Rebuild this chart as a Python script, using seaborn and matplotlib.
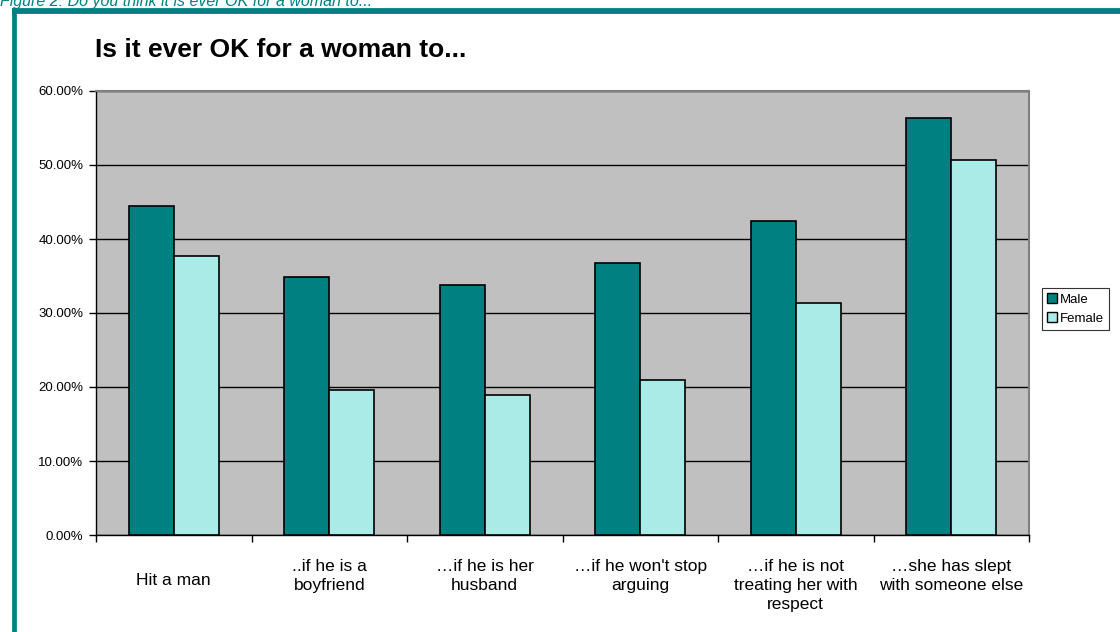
import pandas as pd
import matplotlib
matplotlib.use("Agg")
import matplotlib.pyplot as plt
import matplotlib.transforms
from matplotlib.lines import Line2D
from matplotlib.patches import Patch
from matplotlib.ticker import FuncFormatter, MultipleLocator
import seaborn as sns

# values
categories = ["Hit a man", "..if he is a\nboyfriend", "\u2026if he is her\nhusband",
              "\u2026if he won't stop\narguing", "\u2026if he is not\ntreating her with\nrespect",
              "\u2026she has slept\nwith someone else"]
male = [0.444, 0.349, 0.338, 0.368, 0.424, 0.564]
female = [0.377, 0.196, 0.189, 0.209, 0.313, 0.507]
series = ["Male", "Female"]
colors = ["#008080", "#AAEBE8"]

df = pd.DataFrame({
    "Question": categories * 2,
    "Share": male + female,
    "Gender": [series[0]] * len(categories) + [series[1]] * len(categories),
})

sns.set_style("white")
plt.rcParams["font.family"] = ["Liberation Sans", "DejaVu Sans"]
plt.rcParams["text.color"] = "black"
plt.rcParams["xtick.color"] = "black"
plt.rcParams["ytick.color"] = "black"

W, H = 1120, 632
fig = plt.figure(figsize=(W / 100, H / 100), dpi=100)
ax = fig.add_axes([96 / W, 1 - 535 / H, (1029 - 96) / W, (535 - 91) / H])

sns.barplot(data=df, x="Question", y="Share", hue="Gender", palette=colors,
            width=0.58, edgecolor="black", linewidth=1.2, saturation=1,
            legend=False, ax=ax, zorder=3)

ax.set_facecolor("#C0C0C0")
ax.set_ylim(0, 0.6)
ax.set_xlim(-0.5, len(categories) - 0.5)
ax.yaxis.set_major_locator(MultipleLocator(0.1))
ax.yaxis.set_major_formatter(FuncFormatter(lambda v, p: f"{v * 100:.2f}%"))
ax.grid(axis="y", color="black", linewidth=1, zorder=1)
ax.set_axisbelow(True)
ax.set_xlabel("")
ax.set_ylabel("")

for side in ["top", "right"]:
    ax.spines[side].set_color("#808080")
    ax.spines[side].set_linewidth(1.5)
for side in ["left", "bottom"]:
    ax.spines[side].set_color("black")
    ax.spines[side].set_linewidth(1)

ax.tick_params(axis="y", direction="out", length=5, width=1, color="black",
               labelsize=9.5, pad=4, left=True, labelcolor="black")
ax.tick_params(axis="x", which="major", length=0, labelsize=12.5, pad=17,
               labelcolor="black")
ax.set_xticks([i - 0.5 for i in range(len(categories) + 1)], minor=True)
ax.tick_params(axis="x", which="minor", direction="out", length=5, width=1,
               color="black", bottom=True)
for t in ax.get_xticklabels():
    t.set_verticalalignment("top")
    t.set_linespacing(1.35)

# single-line label sits lower than the first line of the others
lab0 = ax.get_xticklabels()[0]
offs = matplotlib.transforms.ScaledTranslation(0, -0.14, fig.dpi_scale_trans)
lab0.set_transform(lab0.get_transform() + offs)

fig.text(95 / W, 1 - 57 / H, "Is it ever OK for a woman to...", fontsize=19,
         fontweight="bold", va="baseline", ha="left")

handles = [Patch(facecolor=c, edgecolor="black", linewidth=1) for c in colors]
leg = ax.legend(handles, series, loc="center left",
                bbox_to_anchor=(1042 / W, 1 - 309 / H), bbox_transform=fig.transFigure,
                fontsize=9.5, frameon=True, fancybox=False, edgecolor="black",
                handlelength=0.75, handleheight=0.75, handletextpad=0.2,
                borderpad=0.4, labelspacing=0.5, borderaxespad=0)
leg.get_frame().set_linewidth(0.8)

# teal frame and cut-off caption
teal = "#008080"
fig.add_artist(Line2D([14 / W, 14 / W], [0, 1 - 8 / H], color=teal, linewidth=3.4,
                      transform=fig.transFigure, solid_capstyle="butt"))
fig.add_artist(Line2D([12 / W, 1], [1 - 11 / H, 1 - 11 / H], color=teal, linewidth=4.2,
                      transform=fig.transFigure, solid_capstyle="butt"))
fig.text(0.0, 1 - 6 / H, "Figure 2: Do you think it is ever OK for a woman to...",
         fontsize=11.5, style="italic", color=teal, va="baseline", ha="left")

fig.savefig("out.png", dpi=100)
